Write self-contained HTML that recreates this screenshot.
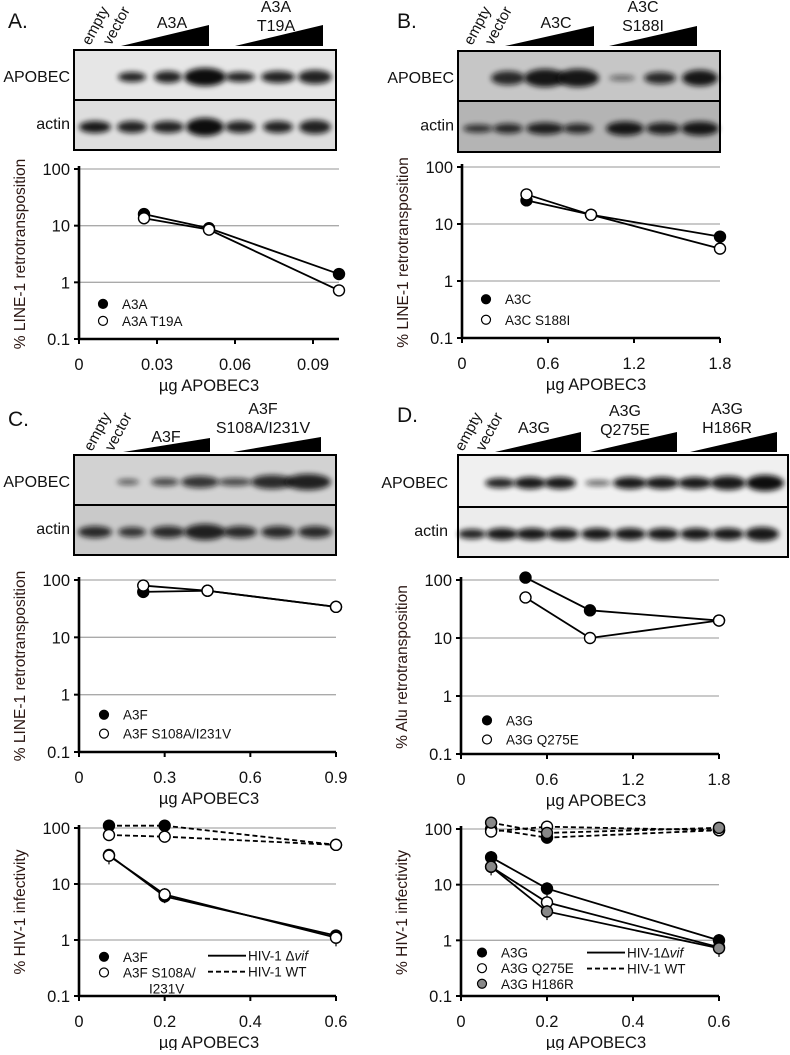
<!DOCTYPE html>
<html><head><meta charset="utf-8">
<style>
html,body{margin:0;padding:0;background:#fff;}
svg text{font-family:"Liberation Sans",Arial,sans-serif;}
</style></head>
<body>
<svg id="fig" width="790" height="1050" viewBox="0 0 790 1050" xmlns="http://www.w3.org/2000/svg">
<defs>
<filter id="blur" x="-30%" y="-80%" width="160%" height="260%"><feGaussianBlur stdDeviation="2.6"/></filter>
</defs>
<g id="blots"></g>
<g id="charts"></g>
</svg>
<script>
// ---------- chart data ----------
// Panel A
const aX = [0.025, 0.05, 0.1];
const aA3A = [16, 9, 1.4];
const aT19A = [13.5, 8.5, 0.72];
const aXTicks = [0, 0.03, 0.06, 0.09];
// Panel B
const bX = [0.45, 0.9, 1.8];
const bA3C = [26, 14.5, 6];
const bS188I = [33, 14.5, 3.7];
const bXTicks = [0, 0.6, 1.2, 1.8];
// Panel C (LINE-1)
const cX = [0.225, 0.45, 0.9];
const cA3F = [62, 65, 34];
const cMut = [80, 65, 34];
const cXTicks = [0, 0.3, 0.6, 0.9];
// Panel C (HIV)
const chX = [0.07, 0.2, 0.6];
const chA3FWT = [110, 110, 50];
const chMutWT = [75, 70, 50];
const chA3FVif = [33, 6, 1.2];
const chMutVif = [32, 6.5, 1.1];
const hivXTicks = [0, 0.2, 0.4, 0.6];
// Panel D (Alu)
const dX = [0.45, 0.9, 1.8];
const dA3G = [110, 30, 20];
const dQ275E = [50, 10, 20];
const dXTicks = [0, 0.6, 1.2, 1.8];
// Panel D (HIV)
const dhX = [0.07, 0.2, 0.6];
const dhA3GWT = [100, 70, 95];
const dhQWT = [90, 110, 95];
const dhHWT = [130, 85, 105];
const dhA3GVif = [31, 8.5, 1.0];
const dhQVif = [21, 4.8, 0.75];
const dhHVif = [21, 3.3, 0.72];
const yTicks = [100, 10, 1, 0.1];
const yTickLabels = ["100", "10", "1", "0.1"];

const NS = "http://www.w3.org/2000/svg";
function mk(tag, attrs, parent, txt) {
  const e = document.createElementNS(NS, tag);
  for (const k in attrs) e.setAttribute(k, attrs[k]);
  if (txt !== undefined) e.textContent = txt;
  parent.appendChild(e);
  return e;
}
const charts = document.getElementById('charts');
const blots = document.getElementById('blots');

function chart(name, g) {
  const grp = mk('g', {}, charts);
  
  
  const xs = v => g.x0 + (v / g.xmax) * (g.x1 - g.x0);
  const dec = (g.y01 - g.y100) / 3;
  const ys = v => g.y100 + (2 - Math.log10(v)) * dec;
  [100, 10, 1].forEach(t => {
    const l = mk('line', {x1: g.x0, x2: g.x1, y1: ys(t), y2: ys(t), stroke: '#aaa', 'stroke-width': 1.3}, grp);
    
    
  });
  yTicks.forEach((t, i) => {
    const tx = mk('text', {x: g.x0 - 9, y: ys(t) + 6, 'text-anchor': 'end', 'font-size': 16.5, fill: '#111'}, grp, yTickLabels[i]);
    
    
    mk('line', {x1: g.x0 - 5, x2: g.x0, y1: ys(t), y2: ys(t), stroke: '#000', 'stroke-width': 2}, grp);
  });
  const ax = mk('path', {d: `M${g.x0},${g.y100 - 3} V${g.y01} H${g.x1}`, fill: 'none', stroke: '#000', 'stroke-width': 2.6}, grp);
  
  
  g.xticks.forEach(t => {
    mk('line', {x1: xs(t), x2: xs(t), y1: g.y01, y2: g.y01 + 5, stroke: '#000', 'stroke-width': 2}, grp);
    const tx = mk('text', {x: xs(t), y: g.y01 + 31, 'text-anchor': 'middle', 'font-size': 16.5, fill: '#111'}, grp, String(t));
    
    
  });
  const xl = mk('text', {x: g.xlabelX, y: g.y01 + 52, 'text-anchor': 'middle', 'font-size': 16.5, fill: '#111'}, grp, 'µg APOBEC3');
  
  
  const cy = (g.y100 + g.y01) / 2;
  const yl = mk('text', {x: 0, y: 0, transform: `translate(${g.x0 - 54},${cy}) rotate(-90)`, 'text-anchor': 'middle', 'font-size': 15.5, fill: '#2a1612'}, grp, g.ytitle);
  
  
  g.series.forEach(s => {
    const pts = s.xs.map((x, i) => xs(x) + ',' + ys(s.ys[i])).join(' ');
    const pl = mk('polyline', {points: pts, fill: 'none', stroke: '#000', 'stroke-width': 1.8, 'stroke-dasharray': s.dash ? '5,3' : 'none'}, grp);
    
    
  });
  g.series.forEach(s => {
    s.xs.forEach((x, i) => {
      if (s.err) {
        const e = s.ys[i] * 0.3;
        mk('line', {x1: xs(x), x2: xs(x), y1: ys(s.ys[i] + e), y2: ys(s.ys[i] - e), stroke: '#000', 'stroke-width': 1.2}, grp);
      }
      const c = mk('circle', {cx: xs(x), cy: ys(s.ys[i]), r: 5.5, fill: s.fill, stroke: '#000', 'stroke-width': 1.4}, grp);
      
      
    });
  });
  g.legend.forEach((L, i) => {
    const y = g.y01 - L.up * dec;
    const c = mk('circle', {cx: g.legX, cy: y, r: 4.5, fill: L.fill, stroke: '#000', 'stroke-width': 1.2}, grp);
    
    
    L.lines.forEach((t, j) => {
      const tx = mk('text', {x: g.legX + 19 + (j ? 26 : 0), y: y + 5 + j * 16, 'font-size': 13.5, fill: '#111'}, grp, t);
      
      
    });
  });
  if (g.lineLeg) {
    const ll = g.lineLeg;
    const y1 = g.y01 - ll.up * dec, y2 = y1 + 16;
    mk('line', {x1: ll.x, x2: ll.x + 38, y1: y1, y2: y1, stroke: '#000', 'stroke-width': 1.8}, grp);
    mk('line', {x1: ll.x, x2: ll.x + 38, y1: y2, y2: y2, stroke: '#000', 'stroke-width': 1.8, 'stroke-dasharray': '5,3'}, grp);
    const t1 = mk('text', {x: ll.x + 40, y: y1 + 5, 'font-size': 13.5, fill: '#111'}, grp);
    
    
    mk('tspan', {}, t1, 'HIV-1' + ll.gap + 'Δ');
    mk('tspan', {'font-style': 'italic'}, t1, 'vif');
    const t2 = mk('text', {x: ll.x + 40, y: y2 + 5, 'font-size': 13.5, fill: '#111'}, grp, 'HIV-1 WT');
    
    
  }
}

chart('chart-a', {x0: 79, x1: 339, xmax: 0.1, y100: 169, y01: 339, xticks: aXTicks, xlabelX: 209,
  ytitle: '% LINE-1 retrotransposition',
  series: [{xs: aX, ys: aA3A, fill: '#000'}, {xs: aX, ys: aT19A, fill: '#fff'}],
  legX: 103, legend: [{up: 0.62, fill: '#000', lines: ['A3A']}, {up: 0.32, fill: '#fff', lines: ['A3A T19A']}]});
chart('chart-b', {x0: 462, x1: 720, xmax: 1.8, y100: 167, y01: 338, xticks: bXTicks, xlabelX: 596,
  ytitle: '% LINE-1  retrotransposition',
  series: [{xs: bX, ys: bA3C, fill: '#000'}, {xs: bX, ys: bS188I, fill: '#fff'}],
  legX: 486, legend: [{up: 0.68, fill: '#000', lines: ['A3C']}, {up: 0.32, fill: '#fff', lines: ['A3C S188I']}]});
chart('chart-c-line1', {x0: 79, x1: 336, xmax: 0.9, y100: 580, y01: 752, xticks: cXTicks, xlabelX: 209,
  ytitle: '% LINE-1 retrotransposition',
  series: [{xs: cX, ys: cA3F, fill: '#000'}, {xs: cX, ys: cMut, fill: '#fff'}],
  legX: 104, legend: [{up: 0.65, fill: '#000', lines: ['A3F']}, {up: 0.32, fill: '#fff', lines: ['A3F S108A/I231V']}]});
chart('chart-c-hiv', {x0: 79, x1: 336, xmax: 0.6, y100: 828, y01: 996, xticks: hivXTicks, xlabelX: 209,
  ytitle: '% HIV-1 infectivity',
  series: [{xs: chX, ys: chA3FWT, fill: '#000', dash: 1}, {xs: chX, ys: chMutWT, fill: '#fff', dash: 1},
           {xs: chX, ys: chA3FVif, fill: '#000'}, {xs: chX, ys: chMutVif, fill: '#fff', err: 1}],
  legX: 104, legend: [{up: 0.7, fill: '#000', lines: ['A3F']}, {up: 0.42, fill: '#fff', lines: ['A3F S108A/', 'I231V']}],
  lineLeg: {x: 208, up: 0.72, gap: '  '}});
chart('chart-d-alu', {x0: 461, x1: 719, xmax: 1.8, y100: 580, y01: 754, xticks: dXTicks, xlabelX: 596,
  ytitle: '% Alu retrotransposition',
  series: [{xs: dX, ys: dA3G, fill: '#000'}, {xs: dX, ys: dQ275E, fill: '#fff'}],
  legX: 487, legend: [{up: 0.58, fill: '#000', lines: ['A3G']}, {up: 0.25, fill: '#fff', lines: ['A3G Q275E']}]});
chart('chart-d-hiv', {x0: 461, x1: 719, xmax: 0.6, y100: 829, y01: 996, xticks: hivXTicks, xlabelX: 596,
  ytitle: '% HIV-1 infectivity',
  series: [{xs: dhX, ys: dhA3GWT, fill: '#000', dash: 1}, {xs: dhX, ys: dhQWT, fill: '#fff', dash: 1}, {xs: dhX, ys: dhHWT, fill: '#888', dash: 1},
           {xs: dhX, ys: dhA3GVif, fill: '#000', err: 1}, {xs: dhX, ys: dhQVif, fill: '#fff'}, {xs: dhX, ys: dhHVif, fill: '#888', err: 1}],
  legX: 482, legend: [{up: 0.78, fill: '#000', lines: ['A3G']}, {up: 0.5, fill: '#fff', lines: ['A3G Q275E']}, {up: 0.22, fill: '#888', lines: ['A3G H186R']}],
  lineLeg: {x: 587, up: 0.78, gap: ''}});

// ---------- blots ----------
function blot(name, b) {
  const grp = mk('g', {}, blots);
  
  
  const mid = b.sep;
  mk('rect', {x: b.x0, y: b.y0, width: b.x1 - b.x0, height: mid - b.y0, fill: b.bgTop, stroke: '#000', 'stroke-width': 2}, grp);
  mk('rect', {x: b.x0, y: mid, width: b.x1 - b.x0, height: b.y1 - mid, fill: b.bgBot, stroke: '#000', 'stroke-width': 2}, grp);
  const yA = (b.y0 + mid) / 2 + 2, yB = (mid + b.y1) / 2 + 2;
  b.apo.forEach(a => mk('ellipse', {cx: a[0], cy: yA, rx: a[1] + 1, ry: a[2], fill: '#111', opacity: a[3], filter: 'url(#blur)'}, grp));
  b.act.forEach(a => mk('ellipse', {cx: a[0], cy: yB, rx: a[1] + 1, ry: a[2], fill: '#111', opacity: a[3], filter: 'url(#blur)'}, grp));
  const t1 = mk('text', {x: b.lblX, y: yA + 5, 'text-anchor': 'end', 'font-size': 16, fill: '#111'}, grp, 'APOBEC');
  
  
  const t2 = mk('text', {x: b.lblX, y: yB + 2, 'text-anchor': 'end', 'font-size': 16, fill: '#111'}, grp, 'actin');
  
  
  mk('text', {transform: `translate(${b.ev},${b.evY}) rotate(-62)`, 'font-size': 15, fill: '#111'}, grp, 'empty');
  mk('text', {transform: `translate(${b.ev + 21},${b.evY}) rotate(-62)`, 'font-size': 15, fill: '#111'}, grp, 'vector');
  b.tri.forEach(t => {
    const p = mk('polygon', {points: `${t.a},${t.y} ${t.b},${t.y} ${t.b},${t.y - t.h}`, fill: '#000'}, grp);
    
    
    t.lab.forEach((s, i) => mk('text', {x: t.lx, y: t.ly + i * 19, 'text-anchor': 'middle', 'font-size': 16, fill: '#111'}, grp, s));
  });
}
blot('blot-a', {x0: 74, x1: 336, y0: 50, sep: 100, y1: 150, bgTop: '#e6e6e6', bgBot: '#dedede', lblX: 70, ev: 90, evY: 46,
  apo: [[132, 13, 5, .9], [168, 13, 6, .9], [205, 20, 9, 1], [240, 14, 5, .9], [278, 16, 6, .9], [315, 16, 7, .9]],
  act: [[95, 15, 6, .95], [132, 14, 6, .9], [168, 15, 6, .9], [205, 18, 9, 1], [240, 14, 6, .9], [278, 14, 6, .9], [315, 15, 7, .9]],
  tri: [{a: 121, b: 209, y: 46, h: 21, lab: ['A3A'], lx: 172, ly: 28}, {a: 235, b: 323, y: 46, h: 21, lab: ['A3A', 'T19A'], lx: 276, ly: 12}]});
blot('blot-b', {x0: 458, x1: 720, y0: 51, sep: 101, y1: 152, bgTop: '#c6c6c6', bgBot: '#b4b4b4', lblX: 454, ev: 472, evY: 46,
  apo: [[508, 16, 7, .85], [545, 20, 9, .95], [578, 20, 9, .95], [622, 12, 3, .5], [660, 15, 6, .85], [700, 17, 8, .95]],
  act: [[478, 14, 4, .8], [508, 14, 5, .85], [545, 18, 6, .9], [578, 14, 5, .85], [625, 18, 7, .95], [663, 16, 6, .9], [700, 18, 7, .95]],
  tri: [{a: 505, b: 594, y: 46, h: 20, lab: ['A3C'], lx: 556, ly: 28}, {a: 609, b: 697, y: 46, h: 20, lab: ['A3C', 'S188I'], lx: 643, ly: 12}]});
blot('blot-c', {x0: 74, x1: 336, y0: 455, sep: 505, y1: 555, bgTop: '#d2d2d2', bgBot: '#c9c9c9', lblX: 70, ev: 92, evY: 452,
  apo: [[128, 10, 3, .6], [165, 13, 4, .7], [200, 18, 6, .8], [235, 16, 4, .7], [272, 20, 7, .85], [308, 22, 8, .9]],
  act: [[95, 16, 6, .85], [132, 13, 5, .8], [168, 16, 6, .85], [205, 20, 8, .9], [240, 16, 6, .85], [278, 16, 6, .85], [315, 16, 6, .85]],
  tri: [{a: 123, b: 210, y: 452, h: 14, lab: ['A3F'], lx: 166, ly: 442}, {a: 233, b: 321, y: 452, h: 15, lab: ['A3F', 'S108A/I231V'], lx: 263, ly: 414}]});
blot('blot-d', {x0: 458, x1: 788, y0: 455, sep: 507, y1: 557, bgTop: '#f0f0f0', bgBot: '#ececec', lblX: 448, ev: 463, evY: 452,
  apo: [[500, 14, 5, .9], [530, 15, 6, .95], [560, 15, 6, .95], [598, 12, 3, .6], [630, 16, 6, .95], [662, 16, 6, .95], [695, 16, 6, .95], [728, 17, 7, .95], [765, 18, 8, 1]],
  act: [[472, 13, 5, .9], [502, 15, 6, .95], [532, 15, 6, .95], [563, 15, 6, .95], [597, 15, 6, .95], [630, 15, 6, .95], [663, 15, 6, .95], [696, 15, 6, .95], [728, 15, 6, .95], [762, 16, 7, .95]],
  tri: [{a: 495, b: 581, y: 452, h: 20, lab: ['A3G'], lx: 534, ly: 433}, {a: 590, b: 677, y: 452, h: 20, lab: ['A3G', 'Q275E'], lx: 625, ly: 416},
        {a: 690, b: 777, y: 452, h: 20, lab: ['A3G', 'H186R'], lx: 727, ly: 414}]});

[['A.', 8, 28], ['B.', 397, 28], ['C.', 8, 426], ['D.', 397, 422]].forEach(p => {
  const t = mk('text', {x: p[1], y: p[2], 'font-size': 21, fill: '#111'}, charts, p[0]);
  
  
});
</script>
</body></html>
